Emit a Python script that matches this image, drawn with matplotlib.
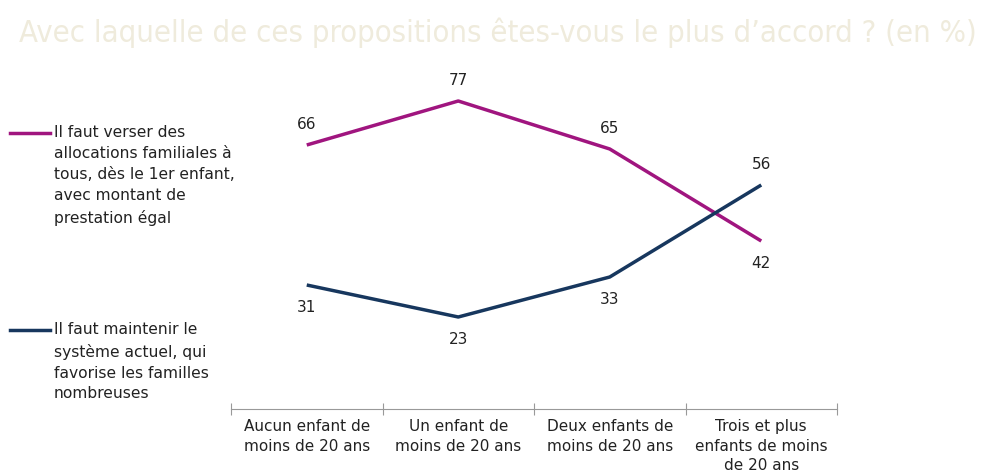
import numpy as np
import matplotlib.pyplot as plt

categories = ['Aucun enfant de\nmoins de 20 ans', 'Un enfant de\nmoins de 20 ans',
              'Deux enfants de\nmoins de 20 ans', 'Trois et plus\nenfants de moins\nde 20 ans']
tous = [66, 77, 65, 42]
actuel = [31, 23, 33, 56]
labels = ['Il faut verser des\nallocations familiales à\ntous, dès le 1er enfant,\navec montant de\nprestation égal',
          'Il faut maintenir le\nsystème actuel, qui\nfavorise les familles\nnombreuses']
colors = ['#A0157F', '#17375E']

fig = plt.figure(figsize=(9.85, 4.74), dpi=100)
ax = fig.add_axes([231/985, 65/474, 606/985, 400/474])
x = np.arange(len(categories))
ax.set_xlim(-0.5, len(categories) - 0.5)
ax.set_ylim(0, 100)

for vals, other, c in [(tous, actuel, colors[0]), (actuel, tous, colors[1])]:
    ax.plot(x, vals, color=c, lw=2.5, solid_capstyle='butt')
    for xi, v, o in zip(x, vals, other):
        off = 15 if v > o else -16
        ax.annotate(str(v), (xi, v), xytext=(0, off), textcoords='offset points',
                    ha='center', va='center', fontsize=11, color='#222222')

for s in ['top', 'right', 'left']:
    ax.spines[s].set_visible(False)
ax.spines['bottom'].set_color('#999999')
ax.set_yticks([])
ax.set_xticks(np.arange(len(categories) + 1) - 0.5)
ax.set_xticklabels([])
ax.tick_params(axis='x', direction='inout', length=8, color='#999999')
for xi, cat in zip(x, categories):
    ax.text(xi, -0.025, cat, transform=ax.get_xaxis_transform(), ha='center', va='top',
            fontsize=11, linespacing=1.38, color='#222222')

fig.text(0.505, 0.93, "Avec laquelle de ces propositions êtes-vous le plus d’accord ? (en %)",
         ha='center', va='center', fontsize=22.2, color='#EFEBDC',
         family='DejaVu Sans', stretch='condensed', weight='light')

for lab, c, y in zip(labels, colors, [133, 330]):
    fig.add_artist(plt.Line2D([10/985, 50/985], [1 - y/474] * 2, color=c, lw=2.5))
    fig.text(54/985, 1 - (y - 8)/474, lab, ha='left', va='top', fontsize=11.2,
             linespacing=1.5, color='#222222')

fig.savefig('out.png', dpi=100)
